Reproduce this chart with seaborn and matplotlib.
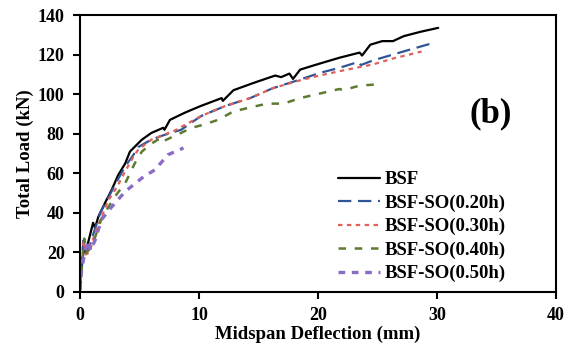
import numpy as np
import pandas as pd
import matplotlib
matplotlib.use("Agg")
import matplotlib.pyplot as plt
import seaborn as sns

labels = ["BSF", "BSF-SO(0.20h)", "BSF-SO(0.30h)", "BSF-SO(0.40h)", "BSF-SO(0.50h)"]

bsf_x = [0, 0.2, 0.28, 0.56, 1.1, 1.26, 1.54, 2.1, 2.66, 3.2, 3.8, 4.2, 4.6, 5.2, 6.0, 7.0, 7.1, 7.56,
         8.8, 10.1, 11.9, 12.0, 12.9, 14.6, 16.4, 16.9, 17.6, 17.9, 18.5, 19.9, 21.8, 23.5, 23.7, 24.4,
         25.4, 26.3, 27.2, 28.6, 30.1]
bsf_y = [1, 16, 19.6, 22, 35, 32.4, 38, 45, 51.6, 59, 65, 71, 73.4, 77, 80.4, 83, 82, 87,
         90.6, 93.9, 98, 96.6, 102, 105.7, 109.4, 108.6, 110.4, 107.7, 112.4, 115, 118.4, 121, 119.5, 125,
         126.8, 126.8, 129.3, 131.5, 133.5]

so20_x = [0, 0.28, 0.5, 0.7, 1.1, 1.7, 2.4, 3.1, 3.8, 4.5, 4.9, 6.0, 6.9, 8.5, 9.7, 10.2, 12.2, 14.3,
          16.2, 18.5, 20.2, 21.8, 23.4, 23.6, 24.6, 26.3, 28.0, 29.4]
so20_y = [1, 26, 20, 21, 29, 40, 48, 56, 63.5, 69.4, 73.3, 77, 79, 82, 87, 89, 94, 98,
          103, 107.4, 110.8, 113.3, 116.3, 114.7, 117, 120, 123, 125.4]

so30_x = [0, 0.3, 0.5, 0.8, 1.26, 2.4, 3.1, 3.8, 4.5, 4.9, 6.0, 8.0, 10.2, 12.2, 14.3, 16.2, 18.5,
          20.2, 21.8, 24.6, 26.3, 28.7]
so30_y = [1, 26, 19, 20, 30, 46.5, 53, 61, 68.5, 72, 77, 81.7, 89, 94, 98, 103, 107,
          109.5, 111.6, 115, 118, 121.5]

so40_x = [0, 0.36, 0.56, 1.0, 1.8, 2.9, 3.8, 4.6, 5.2, 6.0, 6.9, 7.1, 9.4, 10.4, 11.6, 12.9, 15.7,
          17.1, 18.5, 21.8, 22.1, 23.5, 25.1]
so40_y = [1, 27, 20, 23, 37, 48, 55, 65, 71, 75, 78.3, 76.5, 83, 84.6, 87, 91.3, 95.2,
          95.2, 98, 102.6, 102, 104.3, 105]

so50_x = [0, 0.15, 0.4, 0.7, 0.85, 1.26, 1.8, 2.66, 3.8, 5.2, 6.3, 7.4, 8.7]
so50_y = [1, 12, 20, 26, 21, 26, 36.5, 43, 50.8, 57.6, 61.8, 69.4, 72.8]

series_x = [bsf_x, so20_x, so30_x, so40_x, so50_x]
series_y = [bsf_y, so20_y, so30_y, so40_y, so50_y]

x_ticks = [0, 10, 20, 30, 40]
y_ticks = [0, 20, 40, 60, 80, 100, 120, 140]

colors = ["#000000", "#2F5597", "#E0605A", "#5E7A30", "#8A6CC4"]
styles = ["-", (0, (6, 3)), (0, (2, 2)), (0, (3, 3.5)), (0, (2, 2))]
widths = [1.6, 1.6, 1.6, 1.8, 2.4]

sns.set_style("ticks")
plt.rcParams["font.family"] = ["Liberation Serif", "DejaVu Serif"]
plt.rcParams["font.weight"] = "bold"
for k in ["text.color", "axes.labelcolor", "xtick.color", "ytick.color", "axes.edgecolor"]:
    plt.rcParams[k] = "black"

fig = plt.figure(figsize=(5.75, 3.44), dpi=100)
ax = fig.add_axes([80 / 575, 1 - 292 / 344, (556 - 80) / 575, (292 - 15) / 344])

for lab, xs, ys, c, ls, lw in zip(labels, series_x, series_y, colors, styles, widths):
    df = pd.DataFrame({"x": xs, "y": ys})
    sns.lineplot(data=df, x="x", y="y", ax=ax, color=c, linestyle=ls, linewidth=lw,
                 estimator=None, sort=False, label=lab)

ax.set_xlim(0, 40)
ax.set_ylim(0, 140)
ax.set_xticks(x_ticks)
ax.set_yticks(y_ticks)
ax.tick_params(direction="out", length=5, width=1.5, labelsize=13, pad=6, colors="black")
for lbl in ax.get_xticklabels() + ax.get_yticklabels():
    lbl.set_fontweight("bold")
for sp in ax.spines.values():
    sp.set_linewidth(1.5)
    sp.set_color("black")
ax.set_xlabel("Midspan Deflection (mm)", fontsize=13.5, fontweight="bold", labelpad=1)
ax.set_ylabel("Total Load (kN)", fontsize=13.5, fontweight="bold", labelpad=3)

ax.text(0.862, 0.643, "(b)", transform=ax.transAxes, fontsize=25, fontweight="bold",
        ha="center", va="center", color="black")

leg = ax.legend(loc="lower right", bbox_to_anchor=(0.931, -0.026), frameon=False,
                prop={"family": "Liberation Serif", "weight": "bold", "size": 13.5},
                handlelength=2.2, labelspacing=0.33, handletextpad=0.3)

fig.savefig("out.png", dpi=100)
